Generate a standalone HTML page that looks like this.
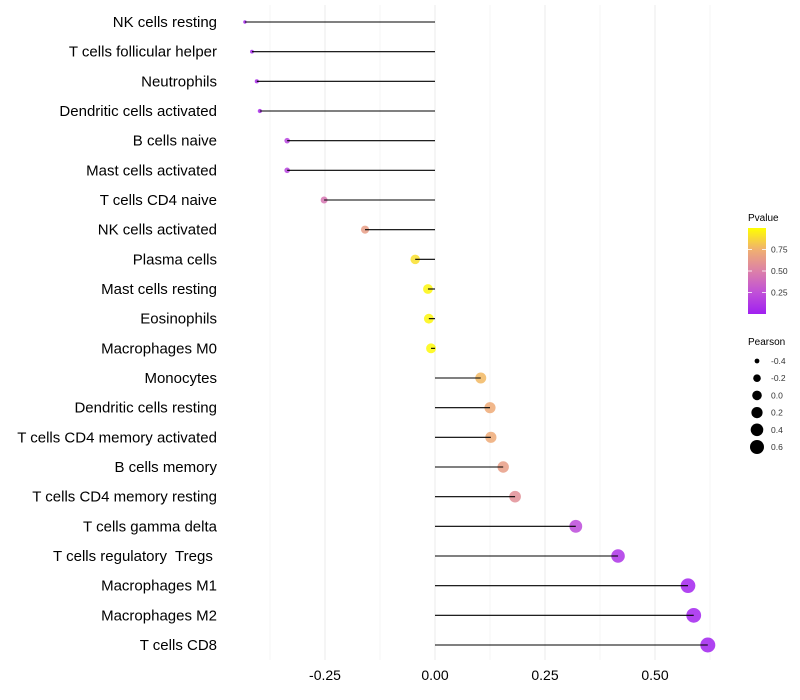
<!DOCTYPE html>
<html><head><meta charset="utf-8">
<style>
html,body{margin:0;padding:0;background:#fff;}
svg{display:block;font-family:"Liberation Sans",sans-serif;}
text{white-space:pre;}
</style></head>
<body>
<svg id="chart" width="800" height="700" viewBox="0 0 800 700">
<defs>
<linearGradient id="pg" x1="0" y1="1" x2="0" y2="0">
<stop offset="0" stop-color="#a020f0"/>
<stop offset="0.25" stop-color="#c050d8"/>
<stop offset="0.5" stop-color="#dc80a8"/>
<stop offset="0.75" stop-color="#f0b070"/>
<stop offset="1" stop-color="#ffff00"/>
</linearGradient>
</defs>
<g id="grid"></g>
<g id="marks"></g>
<g id="ylabels"></g>
<g id="xlabels"></g>
<g>
<text x="748" y="221" font-size="10" fill="#000">Pvalue</text>
<rect x="748" y="228" width="18" height="86" fill="url(#pg)"/>
<g id="cbticks"></g>
</g>
<g id="sizeleg">
<text x="748" y="345" font-size="10" fill="#000">Pearson</text>
</g>
</svg>
<script>
const categories = ["NK cells resting","T cells follicular helper","Neutrophils","Dendritic cells activated","B cells naive","Mast cells activated","T cells CD4 naive","NK cells activated","Plasma cells","Mast cells resting","Eosinophils","Macrophages M0","Monocytes","Dendritic cells resting","T cells CD4 memory activated","B cells memory","T cells CD4 memory resting","T cells gamma delta","T cells regulatory  Tregs ","Macrophages M1","Macrophages M2","T cells CD8"];
const pearson = [-0.432,-0.416,-0.405,-0.398,-0.336,-0.336,-0.252,-0.159,-0.045,-0.016,-0.014,-0.009,0.104,0.125,0.127,0.155,0.182,0.32,0.416,0.575,0.588,0.62];
const pvalues = [0.03,0.05,0.06,0.07,0.18,0.18,0.45,0.65,0.9,0.97,0.97,0.98,0.78,0.72,0.72,0.65,0.58,0.22,0.1,0.02,0.02,0.01];
const xTicks = [-0.25,0,0.25,0.5];
const xTickLabels = ["-0.25","0.00","0.25","0.50"];
const cbTicks = [0.25,0.5,0.75];
const sizeBreaks = [-0.4,-0.2,0.0,0.2,0.4,0.6];

const NS="http://www.w3.org/2000/svg";
const X0=435, XS=440;
const xs=v=>X0+v*XS;
const Y0=22, YS=(645-22)/(categories.length-1);
const ys=i=>Y0+i*YS;
const pmin=-0.45,pmax=0.65;
const rs=v=>{const t=Math.max(0,Math.min(1,(v-pmin)/(pmax-pmin)));return Math.sqrt(1.4*1.4+(7.6*7.6-1.4*1.4)*t);};
const stops=[[0,[160,32,240]],[0.25,[192,80,216]],[0.5,[220,128,168]],[0.75,[240,176,112]],[1,[255,255,0]]];
function cs(p){p=Math.max(0,Math.min(1,p));for(let i=1;i<stops.length;i++){if(p<=stops[i][0]){const a=stops[i-1],b=stops[i];const t=(p-a[0])/(b[0]-a[0]);const c=a[1].map((v,k)=>Math.round(v+(b[1][k]-v)*t));return `rgb(${c.join(',')})`;}}return 'rgb(255,255,0)';}
function el(tag,attrs,parent,txt){const e=document.createElementNS(NS,tag);for(const k in attrs)e.setAttribute(k,attrs[k]);if(txt!==undefined)e.textContent=txt;parent.appendChild(e);return e;}

const grid=document.getElementById('grid');
for(let v=-0.375;v<=0.625+1e-9;v+=0.125){
  const major=Math.abs((v*4)%1)<1e-6;
  const g=el('line',{x1:xs(v),x2:xs(v),y1:5,y2:660,stroke:major?'#ebebeb':'#f3f3f3','stroke-width':major?1:0.8},grid);
  
  
}
const marks=document.getElementById('marks');
const ylab=document.getElementById('ylabels');
categories.forEach((c,i)=>{
  const y=ys(i);
  const pt=el('circle',{cx:xs(pearson[i]),cy:y,r:rs(pearson[i]),fill:cs(pvalues[i]),'fill-opacity':0.85},marks);
  
  
  const ln=el('line',{x1:X0,x2:xs(pearson[i]),y1:y,y2:y,stroke:'#000','stroke-width':1.1},marks);
  
  
  const t=el('text',{x:217,y:y+5,'text-anchor':'end','font-size':15,fill:'#000'},ylab,c);
  
  
});
const xl=document.getElementById('xlabels');
xTicks.forEach((v,i)=>{
  const t=el('text',{x:xs(v),y:680,'text-anchor':'middle','font-size':14,fill:'#000'},xl,xTickLabels[i]);
  
  
});
const cb=document.getElementById('cbticks');
const cby=p=>314-p*86;
cbTicks.forEach(p=>{
  const a=el('line',{x1:748,x2:752,y1:cby(p),y2:cby(p),stroke:'#fff','stroke-width':0.8},cb);
  
  
  const b=el('line',{x1:762,x2:766,y1:cby(p),y2:cby(p),stroke:'#fff','stroke-width':0.8},cb);
  
  
  const t=el('text',{x:771,y:cby(p)+3,'font-size':8.5,fill:'#333'},cb,p.toFixed(2));
  
  
});
const sl=document.getElementById('sizeleg');
const lr=[2.4,3.8,4.8,5.6,6.3,7.0];
sizeBreaks.forEach((v,i)=>{
  const y=361+i*17.2;
  const c=el('circle',{cx:757,cy:y,r:lr[i],fill:'#000'},sl);
  
  
  const t=el('text',{x:771,y:y+3,'font-size':8.5,fill:'#333'},sl,v.toFixed(1));
  
  
});
</script>
</body></html>
